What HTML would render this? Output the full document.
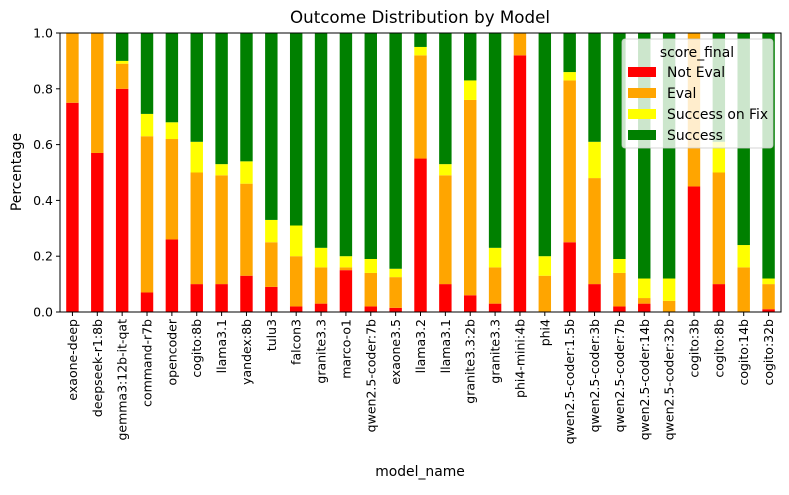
<!DOCTYPE html>
<html><head><meta charset="utf-8"><style>
body{margin:0;background:#fff;}
svg{font-family:"DejaVu Sans","Liberation Sans",sans-serif;}
</style></head><body>
<svg id="chart" width="789" height="490" xmlns="http://www.w3.org/2000/svg">
<text x="420" y="23" text-anchor="middle" font-size="16.7">Outcome Distribution by Model</text>
<g id="bars"></g>
<g id="axes"></g>
<text transform="translate(21,172) rotate(-90)" text-anchor="middle" font-size="13.9">Percentage</text>
<text x="420" y="476" text-anchor="middle" font-size="13.9">model_name</text>
<g>
<rect x="622" y="39" width="151" height="109" rx="3" fill="#fff" fill-opacity="0.8" stroke="#ccc" stroke-opacity="0.8"/>
<text x="697" y="57" text-anchor="middle" font-size="13.9">score_final</text>
<g id="legend-items"></g>
</g>
</svg>
<script>
const categories=["exaone-deep","deepseek-r1:8b","gemma3:12b-it-qat","command-r7b","opencoder","cogito:8b","llama3.1","yandex:8b","tulu3","falcon3","granite3.3","marco-o1","qwen2.5-coder:7b","exaone3.5","llama3.2","llama3.1","granite3.3:2b","granite3.3","phi4-mini:4b","phi4","qwen2.5-coder:1.5b","qwen2.5-coder:3b","qwen2.5-coder:7b","qwen2.5-coder:14b","qwen2.5-coder:32b","cogito:3b","cogito:8b","cogito:14b","cogito:32b"];
const notEval=[0.75,0.57,0.80,0.07,0.26,0.10,0.10,0.13,0.09,0.02,0.03,0.15,0.02,0.015,0.55,0.10,0.06,0.03,0.92,0,0.25,0.10,0.02,0.03,0,0.45,0.10,0,0.01];
const evalV=[0.25,0.43,0.09,0.56,0.36,0.40,0.39,0.33,0.16,0.18,0.13,0.01,0.12,0.11,0.37,0.39,0.70,0.13,0.08,0.13,0.58,0.38,0.12,0.02,0.04,0.55,0.40,0.16,0.09];
const fixV=[0,0,0.01,0.08,0.06,0.11,0.04,0.08,0.08,0.11,0.07,0.04,0.05,0.03,0.03,0.04,0.07,0.07,0,0.07,0.03,0.13,0.05,0.07,0.08,0,0.11,0.08,0.02];
const successV=[0,0,0.10,0.29,0.32,0.39,0.47,0.46,0.67,0.69,0.77,0.80,0.81,0.845,0.05,0.47,0.17,0.77,0,0.80,0.14,0.39,0.81,0.88,0.88,0,0.39,0.76,0.88];
const seriesNames=["Not Eval","Eval","Success on Fix","Success"];
const yTicks=[0,0.2,0.4,0.6,0.8,1.0];
const NS="http://www.w3.org/2000/svg";
const colors=["#ff0000","#ffa500","#ffff00","#008000"];
const X0=60,X1=781,Y0=312,Y1=33;
const step=(X1-X0)/categories.length;
const xc=i=>X0+(i+0.5)*step;
const y=v=>Y0-Math.min(v,1)*(Y0-Y1);
function mk(tag,attrs,parent){const e=document.createElementNS(NS,tag);for(const k in attrs)e.setAttribute(k,attrs[k]);parent.appendChild(e);return e;}
const bars=document.getElementById('bars');
const series=[notEval,evalV,fixV,successV];
categories.forEach((c,i)=>{
  let cum=0;
  series.forEach((s,k)=>{
    const v=s[i];
    const r=mk('rect',{x:xc(i)-step*0.25,y:y(cum+v),width:step*0.5,height:Math.max(0,y(cum)-y(cum+v)),fill:colors[k]},bars);
    
    
    cum+=v;
  });
});
const ax=document.getElementById('axes');
const frame=mk('rect',{x:X0,y:Y1,width:X1-X0,height:Y0-Y1,fill:'none',stroke:'#000','stroke-width':1},ax);


yTicks.forEach(t=>{
  mk('line',{x1:X0-4,x2:X0,y1:y(t),y2:y(t),stroke:'#000'},ax);
  const tx=mk('text',{x:X0-7,y:y(t)+4.5,'text-anchor':'end','font-size':12.5},ax);
  tx.textContent=t.toFixed(1);
  
  
});
categories.forEach((c,i)=>{
  mk('line',{x1:xc(i),x2:xc(i),y1:Y0,y2:Y0+4,stroke:'#000'},ax);
  const tx=mk('text',{transform:`translate(${xc(i)+4.5},${Y0+7}) rotate(-90)`,'text-anchor':'end','font-size':12.5},ax);
  tx.textContent=c;
  
  
});
const li=document.getElementById('legend-items');
seriesNames.forEach((n,k)=>{
  const yy=72+k*21;
  mk('rect',{x:628,y:yy-5,width:28,height:10,fill:colors[k]},li);
  const tx=mk('text',{x:667,y:yy+5,'font-size':13.9},li);
  tx.textContent=n;
  
  
});
</script>
</body></html>
